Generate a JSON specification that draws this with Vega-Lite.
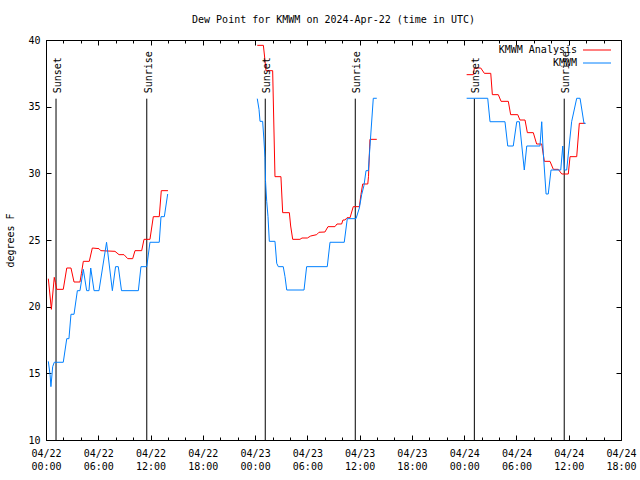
{
  "$schema": "https://vega.github.io/schema/vega-lite/v6.json",
  "width": 575,
  "height": 400,
  "autosize": {"type": "none"},
  "padding": {"left": 46, "top": 40, "right": 19, "bottom": 40},
  "background": "white",
  "title": {"text": "Dew Point for KMWM on 2024-Apr-22 (time in UTC)", "font": "DejaVu Sans Mono", "fontSize": 10, "fontWeight": "normal", "color": "black", "offset": 10},
  "datasets": {
    "obs": [
      {"s": "KMWM Analysis", "g": 1, "t": "2024-04-22T00:16:00Z", "v": 22.1},
      {"s": "KMWM Analysis", "g": 1, "t": "2024-04-22T00:37:00Z", "v": 19.8},
      {"s": "KMWM Analysis", "g": 1, "t": "2024-04-22T00:57:00Z", "v": 22.2},
      {"s": "KMWM Analysis", "g": 1, "t": "2024-04-22T01:05:00Z", "v": 21.8},
      {"s": "KMWM Analysis", "g": 1, "t": "2024-04-22T01:14:00Z", "v": 21.3},
      {"s": "KMWM Analysis", "g": 1, "t": "2024-04-22T01:59:00Z", "v": 21.3},
      {"s": "KMWM Analysis", "g": 1, "t": "2024-04-22T02:23:00Z", "v": 22.9},
      {"s": "KMWM Analysis", "g": 1, "t": "2024-04-22T02:52:00Z", "v": 22.9},
      {"s": "KMWM Analysis", "g": 1, "t": "2024-04-22T03:13:00Z", "v": 21.85},
      {"s": "KMWM Analysis", "g": 1, "t": "2024-04-22T03:54:00Z", "v": 21.85},
      {"s": "KMWM Analysis", "g": 1, "t": "2024-04-22T04:04:00Z", "v": 22.5},
      {"s": "KMWM Analysis", "g": 1, "t": "2024-04-22T04:17:00Z", "v": 23.4},
      {"s": "KMWM Analysis", "g": 1, "t": "2024-04-22T04:58:00Z", "v": 23.4},
      {"s": "KMWM Analysis", "g": 1, "t": "2024-04-22T05:19:00Z", "v": 24.4},
      {"s": "KMWM Analysis", "g": 1, "t": "2024-04-22T06:05:00Z", "v": 24.35},
      {"s": "KMWM Analysis", "g": 1, "t": "2024-04-22T06:17:00Z", "v": 24.2},
      {"s": "KMWM Analysis", "g": 1, "t": "2024-04-22T07:55:00Z", "v": 24.15},
      {"s": "KMWM Analysis", "g": 1, "t": "2024-04-22T08:23:00Z", "v": 23.9},
      {"s": "KMWM Analysis", "g": 1, "t": "2024-04-22T08:57:00Z", "v": 23.9},
      {"s": "KMWM Analysis", "g": 1, "t": "2024-04-22T09:23:00Z", "v": 23.6},
      {"s": "KMWM Analysis", "g": 1, "t": "2024-04-22T09:57:00Z", "v": 23.6},
      {"s": "KMWM Analysis", "g": 1, "t": "2024-04-22T10:13:00Z", "v": 24.2},
      {"s": "KMWM Analysis", "g": 1, "t": "2024-04-22T10:59:00Z", "v": 24.2},
      {"s": "KMWM Analysis", "g": 1, "t": "2024-04-22T11:15:00Z", "v": 25.05},
      {"s": "KMWM Analysis", "g": 1, "t": "2024-04-22T11:56:00Z", "v": 25.05},
      {"s": "KMWM Analysis", "g": 1, "t": "2024-04-22T12:19:00Z", "v": 26.75},
      {"s": "KMWM Analysis", "g": 1, "t": "2024-04-22T13:00:00Z", "v": 26.75},
      {"s": "KMWM Analysis", "g": 1, "t": "2024-04-22T13:14:00Z", "v": 28.7},
      {"s": "KMWM Analysis", "g": 1, "t": "2024-04-22T14:00:00Z", "v": 28.7},

      {"s": "KMWM Analysis", "g": 2, "t": "2024-04-23T00:15:00Z", "v": 39.6},
      {"s": "KMWM Analysis", "g": 2, "t": "2024-04-23T00:57:00Z", "v": 39.6},
      {"s": "KMWM Analysis", "g": 2, "t": "2024-04-23T01:05:00Z", "v": 38.8},
      {"s": "KMWM Analysis", "g": 2, "t": "2024-04-23T01:15:00Z", "v": 37.7},
      {"s": "KMWM Analysis", "g": 2, "t": "2024-04-23T02:01:00Z", "v": 37.7},
      {"s": "KMWM Analysis", "g": 2, "t": "2024-04-23T02:17:00Z", "v": 29.75},
      {"s": "KMWM Analysis", "g": 2, "t": "2024-04-23T02:58:00Z", "v": 29.75},
      {"s": "KMWM Analysis", "g": 2, "t": "2024-04-23T03:10:00Z", "v": 27.05},
      {"s": "KMWM Analysis", "g": 2, "t": "2024-04-23T03:56:00Z", "v": 27.05},
      {"s": "KMWM Analysis", "g": 2, "t": "2024-04-23T04:05:00Z", "v": 26.05},
      {"s": "KMWM Analysis", "g": 2, "t": "2024-04-23T04:19:00Z", "v": 25.05},
      {"s": "KMWM Analysis", "g": 2, "t": "2024-04-23T05:09:00Z", "v": 25.05},
      {"s": "KMWM Analysis", "g": 2, "t": "2024-04-23T05:23:00Z", "v": 25.15},
      {"s": "KMWM Analysis", "g": 2, "t": "2024-04-23T06:00:00Z", "v": 25.15},
      {"s": "KMWM Analysis", "g": 2, "t": "2024-04-23T06:23:00Z", "v": 25.3},
      {"s": "KMWM Analysis", "g": 2, "t": "2024-04-23T07:04:00Z", "v": 25.4},
      {"s": "KMWM Analysis", "g": 2, "t": "2024-04-23T07:20:00Z", "v": 25.58},
      {"s": "KMWM Analysis", "g": 2, "t": "2024-04-23T08:01:00Z", "v": 25.6},
      {"s": "KMWM Analysis", "g": 2, "t": "2024-04-23T08:22:00Z", "v": 26.0},
      {"s": "KMWM Analysis", "g": 2, "t": "2024-04-23T09:10:00Z", "v": 26.0},
      {"s": "KMWM Analysis", "g": 2, "t": "2024-04-23T09:24:00Z", "v": 26.2},
      {"s": "KMWM Analysis", "g": 2, "t": "2024-04-23T09:56:00Z", "v": 26.2},
      {"s": "KMWM Analysis", "g": 2, "t": "2024-04-23T10:05:00Z", "v": 26.5},
      {"s": "KMWM Analysis", "g": 2, "t": "2024-04-23T10:19:00Z", "v": 26.5},
      {"s": "KMWM Analysis", "g": 2, "t": "2024-04-23T10:33:00Z", "v": 26.67},
      {"s": "KMWM Analysis", "g": 2, "t": "2024-04-23T10:54:00Z", "v": 26.67},
      {"s": "KMWM Analysis", "g": 2, "t": "2024-04-23T11:16:00Z", "v": 27.5},
      {"s": "KMWM Analysis", "g": 2, "t": "2024-04-23T11:58:00Z", "v": 27.5},
      {"s": "KMWM Analysis", "g": 2, "t": "2024-04-23T12:09:00Z", "v": 28.4},
      {"s": "KMWM Analysis", "g": 2, "t": "2024-04-23T12:21:00Z", "v": 29.2},
      {"s": "KMWM Analysis", "g": 2, "t": "2024-04-23T12:56:00Z", "v": 29.2},
      {"s": "KMWM Analysis", "g": 2, "t": "2024-04-23T13:01:00Z", "v": 29.75},
      {"s": "KMWM Analysis", "g": 2, "t": "2024-04-23T13:11:00Z", "v": 32.55},
      {"s": "KMWM Analysis", "g": 2, "t": "2024-04-23T13:58:00Z", "v": 32.55},

      {"s": "KMWM Analysis", "g": 3, "t": "2024-04-24T00:17:00Z", "v": 37.4},
      {"s": "KMWM Analysis", "g": 3, "t": "2024-04-24T01:03:00Z", "v": 37.4},
      {"s": "KMWM Analysis", "g": 3, "t": "2024-04-24T01:10:00Z", "v": 37.9},
      {"s": "KMWM Analysis", "g": 3, "t": "2024-04-24T01:54:00Z", "v": 37.9},
      {"s": "KMWM Analysis", "g": 3, "t": "2024-04-24T02:19:00Z", "v": 37.5},
      {"s": "KMWM Analysis", "g": 3, "t": "2024-04-24T03:03:00Z", "v": 37.5},
      {"s": "KMWM Analysis", "g": 3, "t": "2024-04-24T03:14:00Z", "v": 35.9},
      {"s": "KMWM Analysis", "g": 3, "t": "2024-04-24T03:55:00Z", "v": 35.9},
      {"s": "KMWM Analysis", "g": 3, "t": "2024-04-24T04:14:00Z", "v": 35.4},
      {"s": "KMWM Analysis", "g": 3, "t": "2024-04-24T05:04:00Z", "v": 35.4},
      {"s": "KMWM Analysis", "g": 3, "t": "2024-04-24T05:20:00Z", "v": 34.4},
      {"s": "KMWM Analysis", "g": 3, "t": "2024-04-24T06:09:00Z", "v": 34.4},
      {"s": "KMWM Analysis", "g": 3, "t": "2024-04-24T06:24:00Z", "v": 34.0},
      {"s": "KMWM Analysis", "g": 3, "t": "2024-04-24T06:59:00Z", "v": 34.0},
      {"s": "KMWM Analysis", "g": 3, "t": "2024-04-24T07:15:00Z", "v": 33.05},
      {"s": "KMWM Analysis", "g": 3, "t": "2024-04-24T07:56:00Z", "v": 33.05},
      {"s": "KMWM Analysis", "g": 3, "t": "2024-04-24T08:19:00Z", "v": 32.2},
      {"s": "KMWM Analysis", "g": 3, "t": "2024-04-24T08:54:00Z", "v": 32.2},
      {"s": "KMWM Analysis", "g": 3, "t": "2024-04-24T09:12:00Z", "v": 30.9},
      {"s": "KMWM Analysis", "g": 3, "t": "2024-04-24T09:51:00Z", "v": 30.9},
      {"s": "KMWM Analysis", "g": 3, "t": "2024-04-24T10:14:00Z", "v": 30.3},
      {"s": "KMWM Analysis", "g": 3, "t": "2024-04-24T10:48:00Z", "v": 30.3},
      {"s": "KMWM Analysis", "g": 3, "t": "2024-04-24T11:12:00Z", "v": 29.95},
      {"s": "KMWM Analysis", "g": 3, "t": "2024-04-24T11:57:00Z", "v": 29.95},
      {"s": "KMWM Analysis", "g": 3, "t": "2024-04-24T12:09:00Z", "v": 31.25},
      {"s": "KMWM Analysis", "g": 3, "t": "2024-04-24T12:55:00Z", "v": 31.25},
      {"s": "KMWM Analysis", "g": 3, "t": "2024-04-24T13:13:00Z", "v": 33.75},
      {"s": "KMWM Analysis", "g": 3, "t": "2024-04-24T13:52:00Z", "v": 33.75},

      {"s": "KMWM", "g": 1, "t": "2024-04-22T00:16:00Z", "v": 15.9},
      {"s": "KMWM", "g": 1, "t": "2024-04-22T00:28:00Z", "v": 14.9},
      {"s": "KMWM", "g": 1, "t": "2024-04-22T00:34:00Z", "v": 14.0},
      {"s": "KMWM", "g": 1, "t": "2024-04-22T00:46:00Z", "v": 15.5},
      {"s": "KMWM", "g": 1, "t": "2024-04-22T00:57:00Z", "v": 15.83},
      {"s": "KMWM", "g": 1, "t": "2024-04-22T01:59:00Z", "v": 15.83},
      {"s": "KMWM", "g": 1, "t": "2024-04-22T02:23:00Z", "v": 17.6},
      {"s": "KMWM", "g": 1, "t": "2024-04-22T02:38:00Z", "v": 17.6},
      {"s": "KMWM", "g": 1, "t": "2024-04-22T02:52:00Z", "v": 19.43},
      {"s": "KMWM", "g": 1, "t": "2024-04-22T03:13:00Z", "v": 19.43},
      {"s": "KMWM", "g": 1, "t": "2024-04-22T03:36:00Z", "v": 21.2},
      {"s": "KMWM", "g": 1, "t": "2024-04-22T03:54:00Z", "v": 21.2},
      {"s": "KMWM", "g": 1, "t": "2024-04-22T04:17:00Z", "v": 22.8},
      {"s": "KMWM", "g": 1, "t": "2024-04-22T04:40:00Z", "v": 21.2},
      {"s": "KMWM", "g": 1, "t": "2024-04-22T04:56:00Z", "v": 21.2},
      {"s": "KMWM", "g": 1, "t": "2024-04-22T05:08:00Z", "v": 22.9},
      {"s": "KMWM", "g": 1, "t": "2024-04-22T05:31:00Z", "v": 21.2},
      {"s": "KMWM", "g": 1, "t": "2024-04-22T06:05:00Z", "v": 21.2},
      {"s": "KMWM", "g": 1, "t": "2024-04-22T06:57:00Z", "v": 24.83},
      {"s": "KMWM", "g": 1, "t": "2024-04-22T07:37:00Z", "v": 21.2},
      {"s": "KMWM", "g": 1, "t": "2024-04-22T07:59:00Z", "v": 23.0},
      {"s": "KMWM", "g": 1, "t": "2024-04-22T08:18:00Z", "v": 23.0},
      {"s": "KMWM", "g": 1, "t": "2024-04-22T08:40:00Z", "v": 21.2},
      {"s": "KMWM", "g": 1, "t": "2024-04-22T10:36:00Z", "v": 21.2},
      {"s": "KMWM", "g": 1, "t": "2024-04-22T10:54:00Z", "v": 23.0},
      {"s": "KMWM", "g": 1, "t": "2024-04-22T11:34:00Z", "v": 23.0},
      {"s": "KMWM", "g": 1, "t": "2024-04-22T11:56:00Z", "v": 24.83},
      {"s": "KMWM", "g": 1, "t": "2024-04-22T13:00:00Z", "v": 24.83},
      {"s": "KMWM", "g": 1, "t": "2024-04-22T13:12:00Z", "v": 26.75},
      {"s": "KMWM", "g": 1, "t": "2024-04-22T13:35:00Z", "v": 26.75},
      {"s": "KMWM", "g": 1, "t": "2024-04-22T13:58:00Z", "v": 28.45},

      {"s": "KMWM", "g": 2, "t": "2024-04-23T00:15:00Z", "v": 35.6},
      {"s": "KMWM", "g": 2, "t": "2024-04-23T00:27:00Z", "v": 34.8},
      {"s": "KMWM", "g": 2, "t": "2024-04-23T00:34:00Z", "v": 33.9},
      {"s": "KMWM", "g": 2, "t": "2024-04-23T00:52:00Z", "v": 33.9},
      {"s": "KMWM", "g": 2, "t": "2024-04-23T01:01:00Z", "v": 32.5},
      {"s": "KMWM", "g": 2, "t": "2024-04-23T01:08:00Z", "v": 31.2},
      {"s": "KMWM", "g": 2, "t": "2024-04-23T01:12:00Z", "v": 29.4},
      {"s": "KMWM", "g": 2, "t": "2024-04-23T01:20:00Z", "v": 27.9},
      {"s": "KMWM", "g": 2, "t": "2024-04-23T01:29:00Z", "v": 26.75},
      {"s": "KMWM", "g": 2, "t": "2024-04-23T01:38:00Z", "v": 24.9},
      {"s": "KMWM", "g": 2, "t": "2024-04-23T02:17:00Z", "v": 24.9},
      {"s": "KMWM", "g": 2, "t": "2024-04-23T02:29:00Z", "v": 23.25},
      {"s": "KMWM", "g": 2, "t": "2024-04-23T02:40:00Z", "v": 23.0},
      {"s": "KMWM", "g": 2, "t": "2024-04-23T03:14:00Z", "v": 23.0},
      {"s": "KMWM", "g": 2, "t": "2024-04-23T03:26:00Z", "v": 22.25},
      {"s": "KMWM", "g": 2, "t": "2024-04-23T03:38:00Z", "v": 21.25},
      {"s": "KMWM", "g": 2, "t": "2024-04-23T05:37:00Z", "v": 21.25},
      {"s": "KMWM", "g": 2, "t": "2024-04-23T05:55:00Z", "v": 23.0},
      {"s": "KMWM", "g": 2, "t": "2024-04-23T08:17:00Z", "v": 23.0},
      {"s": "KMWM", "g": 2, "t": "2024-04-23T08:36:00Z", "v": 24.83},
      {"s": "KMWM", "g": 2, "t": "2024-04-23T10:14:00Z", "v": 24.83},
      {"s": "KMWM", "g": 2, "t": "2024-04-23T10:35:00Z", "v": 26.6},
      {"s": "KMWM", "g": 2, "t": "2024-04-23T11:35:00Z", "v": 26.6},
      {"s": "KMWM", "g": 2, "t": "2024-04-23T11:58:00Z", "v": 27.4},
      {"s": "KMWM", "g": 2, "t": "2024-04-23T12:14:00Z", "v": 28.4},
      {"s": "KMWM", "g": 2, "t": "2024-04-23T12:30:00Z", "v": 29.1},
      {"s": "KMWM", "g": 2, "t": "2024-04-23T12:44:00Z", "v": 30.2},
      {"s": "KMWM", "g": 2, "t": "2024-04-23T13:00:00Z", "v": 30.2},
      {"s": "KMWM", "g": 2, "t": "2024-04-23T13:11:00Z", "v": 32.0},
      {"s": "KMWM", "g": 2, "t": "2024-04-23T13:34:00Z", "v": 35.63},
      {"s": "KMWM", "g": 2, "t": "2024-04-23T13:58:00Z", "v": 35.63},

      {"s": "KMWM", "g": 3, "t": "2024-04-24T00:17:00Z", "v": 35.63},
      {"s": "KMWM", "g": 3, "t": "2024-04-24T02:42:00Z", "v": 35.63},
      {"s": "KMWM", "g": 3, "t": "2024-04-24T02:58:00Z", "v": 33.87},
      {"s": "KMWM", "g": 3, "t": "2024-04-24T04:41:00Z", "v": 33.87},
      {"s": "KMWM", "g": 3, "t": "2024-04-24T05:00:00Z", "v": 32.05},
      {"s": "KMWM", "g": 3, "t": "2024-04-24T05:38:00Z", "v": 32.05},
      {"s": "KMWM", "g": 3, "t": "2024-04-24T06:02:00Z", "v": 33.87},
      {"s": "KMWM", "g": 3, "t": "2024-04-24T06:20:00Z", "v": 33.87},
      {"s": "KMWM", "g": 3, "t": "2024-04-24T06:54:00Z", "v": 30.25},
      {"s": "KMWM", "g": 3, "t": "2024-04-24T07:11:00Z", "v": 32.05},
      {"s": "KMWM", "g": 3, "t": "2024-04-24T08:42:00Z", "v": 32.05},
      {"s": "KMWM", "g": 3, "t": "2024-04-24T08:54:00Z", "v": 33.87},
      {"s": "KMWM", "g": 3, "t": "2024-04-24T09:05:00Z", "v": 31.5},
      {"s": "KMWM", "g": 3, "t": "2024-04-24T09:24:00Z", "v": 28.45},
      {"s": "KMWM", "g": 3, "t": "2024-04-24T09:39:00Z", "v": 28.45},
      {"s": "KMWM", "g": 3, "t": "2024-04-24T09:58:00Z", "v": 30.25},
      {"s": "KMWM", "g": 3, "t": "2024-04-24T11:05:00Z", "v": 30.25},
      {"s": "KMWM", "g": 3, "t": "2024-04-24T11:19:00Z", "v": 32.05},
      {"s": "KMWM", "g": 3, "t": "2024-04-24T11:30:00Z", "v": 30.25},
      {"s": "KMWM", "g": 3, "t": "2024-04-24T11:46:00Z", "v": 30.25},
      {"s": "KMWM", "g": 3, "t": "2024-04-24T12:20:00Z", "v": 33.87},
      {"s": "KMWM", "g": 3, "t": "2024-04-24T12:55:00Z", "v": 35.63},
      {"s": "KMWM", "g": 3, "t": "2024-04-24T13:18:00Z", "v": 35.63},
      {"s": "KMWM", "g": 3, "t": "2024-04-24T13:45:00Z", "v": 33.75},
      {"s": "KMWM", "g": 3, "t": "2024-04-24T13:57:00Z", "v": 33.75}
    ],
    "sun": [
      {"ev": "Sunset", "t": "2024-04-22T01:09:00Z"},
      {"ev": "Sunrise", "t": "2024-04-22T11:34:00Z"},
      {"ev": "Sunset", "t": "2024-04-23T01:10:00Z"},
      {"ev": "Sunrise", "t": "2024-04-23T11:30:00Z"},
      {"ev": "Sunset", "t": "2024-04-24T01:10:00Z"},
      {"ev": "Sunrise", "t": "2024-04-24T11:29:00Z"}
    ]
  },
  "resolve": {"axis": {"x": "independent", "y": "independent"}},
  "layer": [
    {
      "data": {"name": "sun"},
      "mark": {"type": "rule", "color": "black", "strokeWidth": 1},
      "encoding": {
        "x": {"field": "t", "type": "temporal",
          "scale": {"type": "utc", "domain": [1713744000000, 1713981600000]},
          "axis": {"orient": "bottom", "title": null, "labels": false, "domain": false, "grid": false, "tickSize": -3,
            "values": [1713744000000,1713751200000,1713758400000,1713765600000,1713772800000,1713780000000,1713787200000,1713794400000,1713801600000,1713808800000,1713816000000,1713823200000,1713830400000,1713837600000,1713844800000,1713852000000,1713859200000,1713866400000,1713873600000,1713880800000,1713888000000,1713895200000,1713902400000,1713909600000,1713916800000,1713924000000,1713931200000,1713938400000,1713945600000,1713952800000,1713960000000,1713967200000,1713974400000,1713981600000]}},
        "y": {"datum": 10, "type": "quantitative",
          "scale": {"domain": [10, 40], "nice": false, "zero": false},
          "axis": {"orient": "right", "title": null, "labels": false, "domain": false, "grid": false, "tickSize": -5, "values": [10, 15, 20, 25, 30, 35, 40]}},
        "y2": {"datum": 35.6}
      }
    },
    {
      "data": {"name": "obs"},
      "transform": [{"filter": "datum.s === 'KMWM Analysis'"}],
      "mark": {"type": "line", "strokeWidth": 1, "interpolate": "linear"},
      "encoding": {
        "x": {"field": "t", "type": "temporal",
          "scale": {"type": "utc", "domain": [1713744000000, 1713981600000]},
          "axis": {"orient": "top", "title": null, "labels": false, "domain": false, "grid": false, "tickSize": -3,
            "values": [1713744000000,1713751200000,1713758400000,1713765600000,1713772800000,1713780000000,1713787200000,1713794400000,1713801600000,1713808800000,1713816000000,1713823200000,1713830400000,1713837600000,1713844800000,1713852000000,1713859200000,1713866400000,1713873600000,1713880800000,1713888000000,1713895200000,1713902400000,1713909600000,1713916800000,1713924000000,1713931200000,1713938400000,1713945600000,1713952800000,1713960000000,1713967200000,1713974400000,1713981600000]}},
        "y": {"field": "v", "type": "quantitative",
          "scale": {"domain": [10, 40], "nice": false, "zero": false},
          "axis": {"orient": "left", "title": "degrees F", "titlePadding": 12, "domain": false, "grid": false, "tickSize": -5, "labelPadding": 11, "values": [10, 15, 20, 25, 30, 35, 40]}},
        "color": {"field": "s", "type": "nominal",
          "scale": {"domain": ["KMWM Analysis", "KMWM"], "range": ["#ff0000", "#0080ff"]},
          "legend": {"orient": "none", "legendX": 546, "legendY": 5, "title": null, "padding": 0,
            "symbolType": "M-4,0H4", "symbolSize": 49, "symbolStrokeWidth": 1,
            "labelAlign": "right", "labelOffset": -25, "labelFont": "DejaVu Sans Mono", "labelFontSize": 10, "labelColor": "black", "rowPadding": 3}},
        "detail": {"field": "g", "type": "nominal"}
      }
    },
    {
      "data": {"name": "obs"},
      "transform": [{"filter": "datum.s === 'KMWM'"}],
      "mark": {"type": "line", "strokeWidth": 1, "interpolate": "linear"},
      "encoding": {
        "x": {"field": "t", "type": "temporal",
          "scale": {"type": "utc", "domain": [1713744000000, 1713981600000]},
          "axis": {"orient": "top", "title": null, "labels": false, "domain": false, "grid": false, "tickSize": -5,
            "values": [1713744000000,1713765600000,1713787200000,1713808800000,1713830400000,1713852000000,1713873600000,1713895200000,1713916800000,1713938400000,1713960000000,1713981600000]}},
        "y": {"field": "v", "type": "quantitative",
          "scale": {"domain": [10, 40], "nice": false, "zero": false},
          "axis": null},
        "color": {"field": "s", "type": "nominal",
          "scale": {"domain": ["KMWM Analysis", "KMWM"], "range": ["#ff0000", "#0080ff"]}},
        "detail": {"field": "g", "type": "nominal"}
      }
    },
    {
      "data": {"name": "sun"},
      "mark": {"type": "text", "angle": 270, "align": "left", "baseline": "middle", "dy": 2, "font": "DejaVu Sans Mono", "fontSize": 10, "color": "black"},
      "encoding": {
        "x": {"field": "t", "type": "temporal",
          "scale": {"type": "utc", "domain": [1713744000000, 1713981600000]},
          "axis": {"orient": "bottom", "title": null, "domain": false, "grid": false, "tickSize": -5, "labelPadding": 13,
            "labelExpr": "[utcFormat(datum.value, '%m/%d'), utcFormat(datum.value, '%H:%M')]",
            "labelLineHeight": 13, "labelFlush": false, "labelOverlap": false, "labelBound": false,
            "values": [1713744000000,1713765600000,1713787200000,1713808800000,1713830400000,1713852000000,1713873600000,1713895200000,1713916800000,1713938400000,1713960000000,1713981600000]}},
        "y": {"datum": 36.0, "type": "quantitative",
          "scale": {"domain": [10, 40], "nice": false, "zero": false},
          "axis": null},
        "text": {"field": "ev", "type": "nominal"}
      }
    }
  ],
  "config": {
    "font": "DejaVu Sans Mono",
    "view": {"stroke": "black", "strokeWidth": 1},
    "axis": {"labelFont": "DejaVu Sans Mono", "labelFontSize": 10, "labelColor": "black", "tickColor": "black", "tickWidth": 1,
      "titleFont": "DejaVu Sans Mono", "titleFontSize": 10, "titleFontWeight": "normal", "titleColor": "black", "grid": false}
  }
}
